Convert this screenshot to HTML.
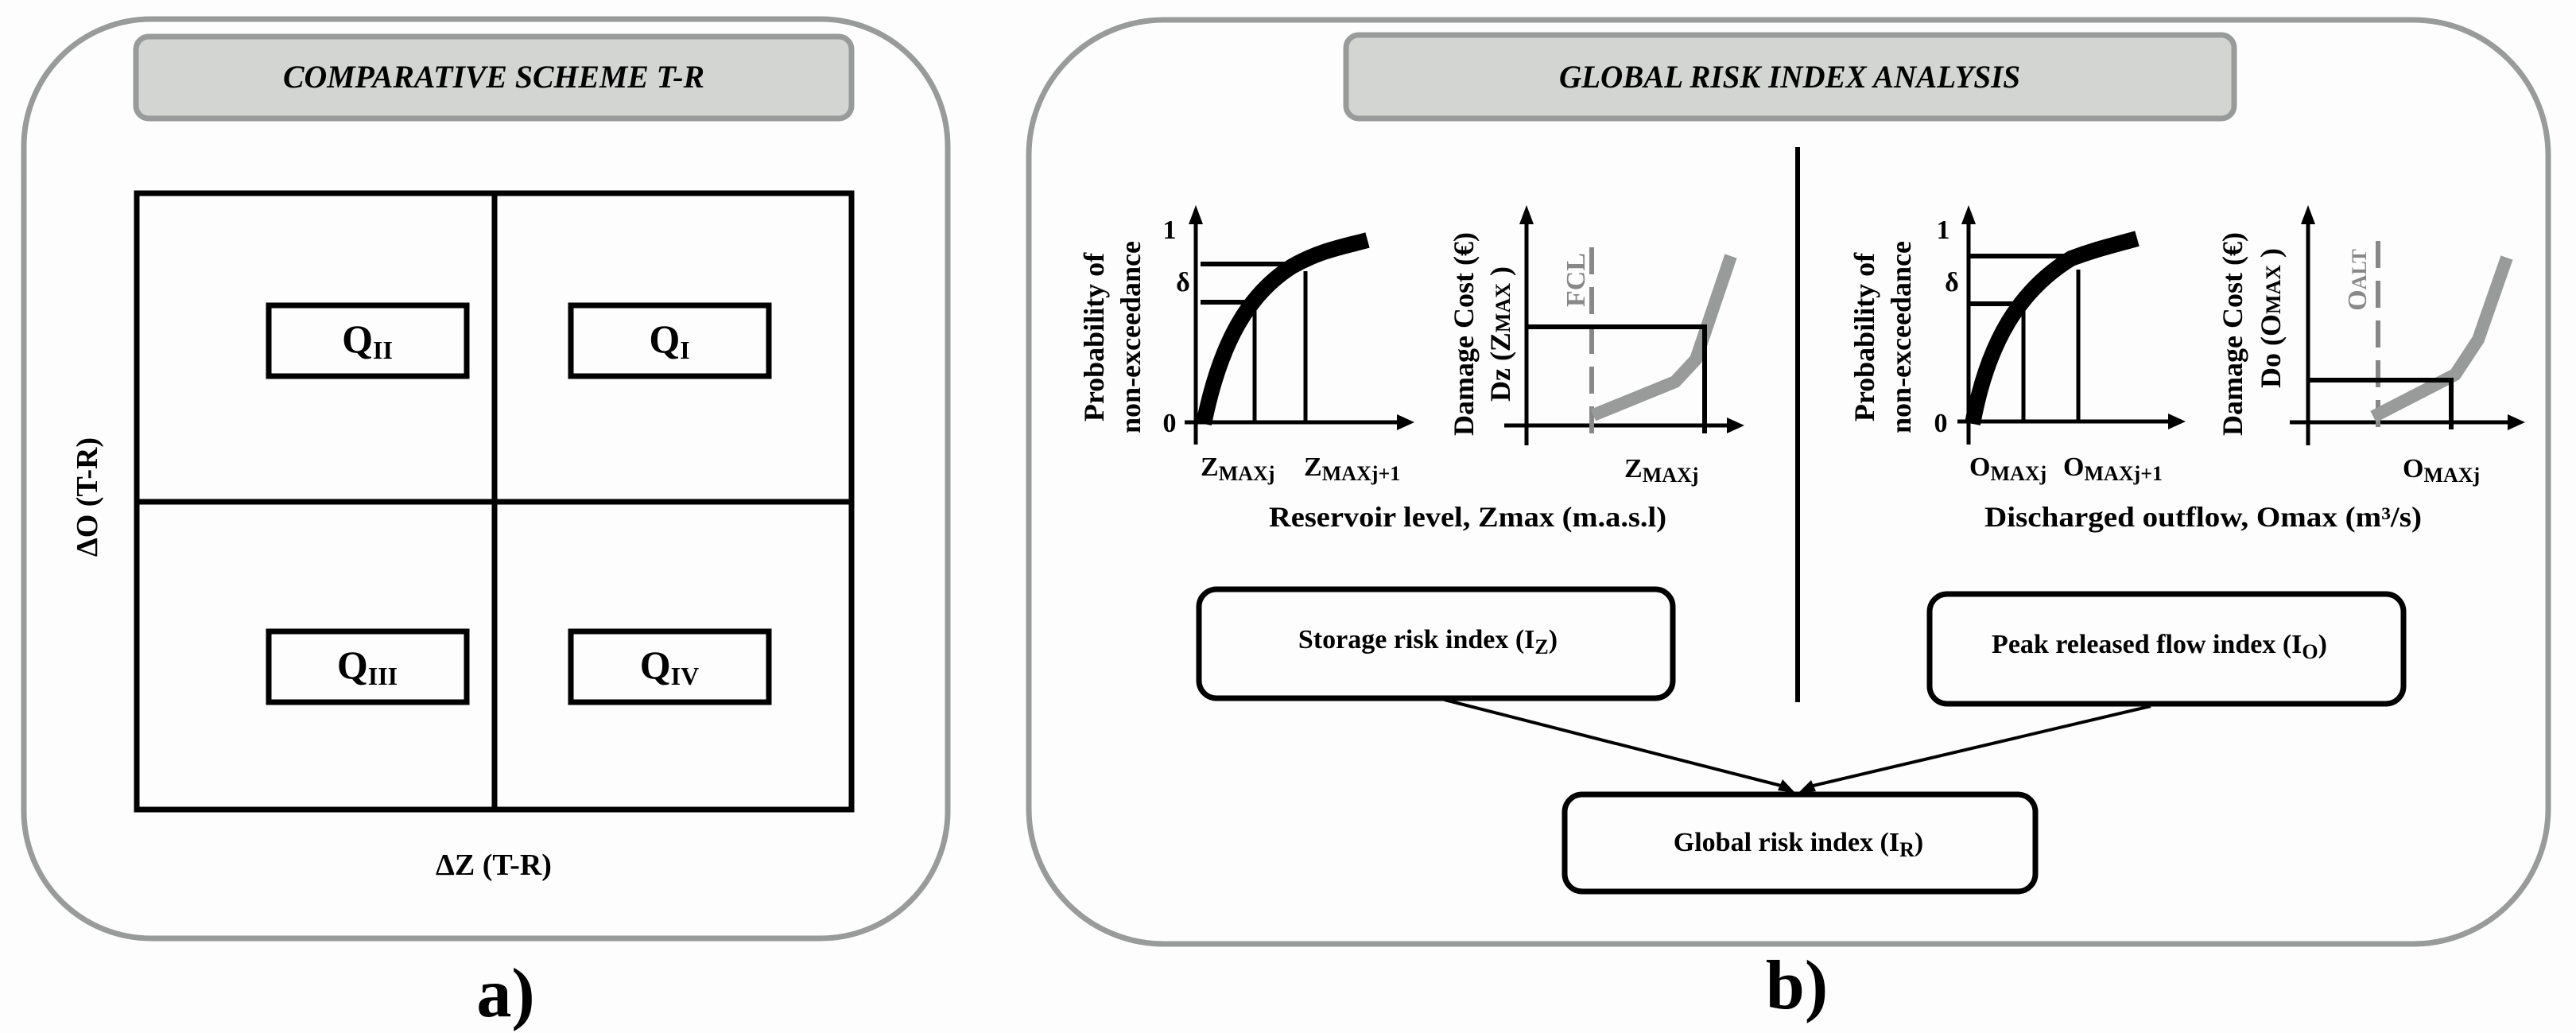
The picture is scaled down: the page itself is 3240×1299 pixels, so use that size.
<!DOCTYPE html>
<html><head><meta charset="utf-8"><style>
html,body{margin:0;padding:0;background:#fdfdfd;}
svg{display:block;}
text{font-family:"Liberation Serif",serif;font-weight:bold;fill:#000;}
</style></head><body>
<svg width="3240" height="1299" viewBox="0 0 3240 1299" xmlns="http://www.w3.org/2000/svg">
<rect width="3240" height="1299" fill="#fdfdfd"/>
<!-- Left panel -->
<rect x="30" y="24" width="1162" height="1156" rx="160" fill="#fdfdfd" stroke="#999b9b" stroke-width="7"/>
<rect x="171" y="46" width="900" height="103" rx="16" fill="#d3d5d3" stroke="#999b9b" stroke-width="7"/>
<text x="621" y="110" text-anchor="middle" font-size="40" font-style="italic" textLength="530" lengthAdjust="spacingAndGlyphs">COMPARATIVE SCHEME T-R</text>
<g stroke="#000" stroke-width="7" fill="none">
<rect x="172" y="243" width="899" height="775"/>
<line x1="622" y1="243" x2="622" y2="1018"/>
<line x1="172" y1="631" x2="1071" y2="631"/>
<rect x="338" y="384" width="249" height="89"/>
<rect x="718" y="384" width="249" height="89"/>
<rect x="338" y="794" width="249" height="89"/>
<rect x="718" y="794" width="249" height="89"/>
</g>
<text x="462" y="443" text-anchor="middle" font-size="50">Q<tspan font-size="32" dy="8">II</tspan></text>
<text x="842" y="443" text-anchor="middle" font-size="50">Q<tspan font-size="32" dy="8">I</tspan></text>
<text x="462" y="853" text-anchor="middle" font-size="50">Q<tspan font-size="32" dy="8">III</tspan></text>
<text x="842" y="853" text-anchor="middle" font-size="50">Q<tspan font-size="32" dy="8">IV</tspan></text>
<text transform="translate(122,625) rotate(-90)" text-anchor="middle" font-size="38">ΔO (T-R)</text>
<text x="621" y="1100" text-anchor="middle" font-size="38">ΔZ (T-R)</text>
<text x="636" y="1278" text-anchor="middle" font-size="88">a)</text>

<!-- Right panel -->
<rect x="1294" y="25" width="1911" height="1162" rx="170" fill="#fdfdfd" stroke="#999b9b" stroke-width="7"/>
<rect x="1693" y="44" width="1117" height="105" rx="16" fill="#d3d5d3" stroke="#999b9b" stroke-width="7"/>
<text x="2251" y="110" text-anchor="middle" font-size="40" font-style="italic" textLength="580" lengthAdjust="spacingAndGlyphs">GLOBAL RISK INDEX ANALYSIS</text>
<line x1="2261" y1="185" x2="2261" y2="883" stroke="#000" stroke-width="6"/>

<!-- Chart 1 -->
<g stroke="#000" fill="none">
<line x1="1504" y1="272" x2="1504" y2="559" stroke-width="5"/>
<line x1="1490" y1="531" x2="1765" y2="531" stroke-width="5"/>
<polyline points="1510,332 1624,332" stroke-width="6"/>
<polyline points="1510,380 1573,380" stroke-width="6"/>
<line x1="1578" y1="380" x2="1578" y2="531" stroke-width="5"/>
<line x1="1642" y1="341" x2="1642" y2="531" stroke-width="5"/>
<path d="M1514,533 C1535,430 1570,370 1625,335 C1660,315 1690,310 1720,302" stroke-width="20"/>
</g>
<polygon points="1504,258 1495,282 1513,282" fill="#000"/>
<polygon points="1779,531 1757,521 1757,541" fill="#000"/>
<text x="1471" y="300" text-anchor="middle" font-size="34" font-weight="normal">1</text>
<text x="1488" y="366" text-anchor="middle" font-size="34">δ</text>
<text x="1471" y="543" text-anchor="middle" font-size="34" font-weight="normal">0</text>
<text transform="translate(1388,424) rotate(-90)" text-anchor="middle" font-size="36">Probability of</text>
<text transform="translate(1434,424) rotate(-90)" text-anchor="middle" font-size="36">non-exceedance</text>
<text x="1510" y="598" font-size="34">Z<tspan font-size="26" dy="6">MAXj</tspan></text>
<text x="1640" y="598" font-size="34">Z<tspan font-size="26" dy="6">MAXj+1</tspan></text>

<!-- Chart 2 -->
<g fill="none">
<line x1="1920" y1="272" x2="1920" y2="560" stroke="#000" stroke-width="5"/>
<line x1="1892" y1="535" x2="2180" y2="535" stroke="#000" stroke-width="5"/>
<line x1="2002" y1="311" x2="2002" y2="552" stroke="#888" stroke-width="6" stroke-dasharray="34,16"/>
<polyline points="2004,522 2107,480 2133,452 2177,322" stroke="#999b9b" stroke-width="16"/>
<polyline points="1920,411 2144,411 2144,545" stroke="#000" stroke-width="6"/>
</g>
<polygon points="1920,258 1911,282 1929,282" fill="#000"/>
<polygon points="2194,535 2172,525 2172,545" fill="#000"/>
<text transform="translate(1993,352) rotate(-90)" text-anchor="middle" font-size="34" style="fill:#888">FCL</text>
<text transform="translate(1853,420) rotate(-90)" text-anchor="middle" font-size="36">Damage Cost (€)</text>
<text transform="translate(1899,420) rotate(-90)" text-anchor="middle" font-size="36">Dz (Z<tspan font-size="26">MAX</tspan> )</text>
<text x="2043" y="600" font-size="34">Z<tspan font-size="26" dy="6">MAXj</tspan></text>
<text x="1846" y="662" text-anchor="middle" font-size="36" textLength="500" lengthAdjust="spacingAndGlyphs">Reservoir level, Zmax (m.a.s.l)</text>

<!-- Chart 3 -->
<g stroke="#000" fill="none">
<line x1="2476" y1="272" x2="2476" y2="559" stroke-width="5"/>
<line x1="2462" y1="530" x2="2735" y2="530" stroke-width="5"/>
<polyline points="2476,322 2610,322" stroke-width="6"/>
<polyline points="2476,382 2546,382" stroke-width="6"/>
<line x1="2545" y1="382" x2="2545" y2="530" stroke-width="5"/>
<line x1="2614" y1="339" x2="2614" y2="530" stroke-width="5"/>
<path d="M2481,533 C2500,430 2540,365 2605,325 C2640,312 2660,308 2688,300" stroke-width="20"/>
</g>
<polygon points="2476,258 2467,282 2485,282" fill="#000"/>
<polygon points="2749,530 2727,520 2727,540" fill="#000"/>
<text x="2444" y="300" text-anchor="middle" font-size="34" font-weight="normal">1</text>
<text x="2455" y="366" text-anchor="middle" font-size="34">δ</text>
<text x="2441" y="543" text-anchor="middle" font-size="34" font-weight="normal">0</text>
<text transform="translate(2357,424) rotate(-90)" text-anchor="middle" font-size="36">Probability of</text>
<text transform="translate(2403,424) rotate(-90)" text-anchor="middle" font-size="36">non-exceedance</text>
<text x="2477" y="598" font-size="34">O<tspan font-size="26" dy="6">MAXj</tspan></text>
<text x="2595" y="598" font-size="34">O<tspan font-size="26" dy="6">MAXj+1</tspan></text>

<!-- Chart 4 -->
<g fill="none">
<line x1="2903" y1="272" x2="2903" y2="560" stroke="#000" stroke-width="5"/>
<line x1="2880" y1="531" x2="3162" y2="531" stroke="#000" stroke-width="5"/>
<line x1="2991" y1="303" x2="2991" y2="546" stroke="#888" stroke-width="6" stroke-dasharray="34,16"/>
<polyline points="2985,524 3088,471 3117,427 3153,324" stroke="#999b9b" stroke-width="16"/>
<polyline points="2903,478 3083,478 3083,540" stroke="#000" stroke-width="6"/>
</g>
<polygon points="2903,258 2894,282 2912,282" fill="#000"/>
<polygon points="3176,531 3154,521 3154,541" fill="#000"/>
<text transform="translate(2976,352) rotate(-90)" text-anchor="middle" font-size="34" style="fill:#888">O<tspan font-size="26">ALT</tspan></text>
<text transform="translate(2820,420) rotate(-90)" text-anchor="middle" font-size="36">Damage Cost (€)</text>
<text transform="translate(2868,400) rotate(-90)" text-anchor="middle" font-size="36">Do (O<tspan font-size="26">MAX</tspan> )</text>
<text x="3022" y="600" font-size="34">O<tspan font-size="26" dy="6">MAXj</tspan></text>
<text x="2771" y="662" text-anchor="middle" font-size="36" textLength="550" lengthAdjust="spacingAndGlyphs">Discharged outflow, Omax (m³/s)</text>

<!-- Boxes -->
<g fill="#fdfdfd" stroke="#000" stroke-width="7">
<rect x="1508" y="741" width="596" height="137" rx="22"/>
<rect x="2427" y="747" width="596" height="138" rx="22"/>
<rect x="1968" y="999" width="592" height="122" rx="22"/>
</g>
<text x="1796" y="815" text-anchor="middle" font-size="34">Storage risk index (I<tspan font-size="26" dy="7">Z</tspan><tspan dy="-7">)</tspan></text>
<text x="2716" y="821" text-anchor="middle" font-size="34">Peak released flow index (I<tspan font-size="26" dy="7">O</tspan><tspan dy="-7">)</tspan></text>
<text x="2262" y="1070" text-anchor="middle" font-size="34">Global risk index (I<tspan font-size="26" dy="7">R</tspan><tspan dy="-7">)</tspan></text>
<g stroke="#000" stroke-width="4">
<line x1="1817" y1="880" x2="2248" y2="990"/>
<line x1="2705" y1="888" x2="2272" y2="990"/>
</g>
<polygon points="2258,997 2236,994 2242,980" fill="#000"/>
<polygon points="2262,997 2278,981 2284,995" fill="#000"/>
<text x="2260" y="1268" text-anchor="middle" font-size="88">b)</text>
</svg>
</body></html>
